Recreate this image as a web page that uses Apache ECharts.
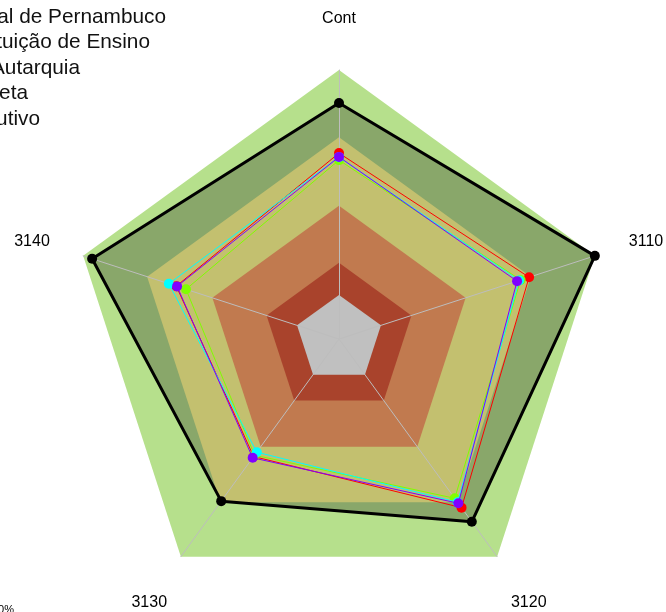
<!DOCTYPE html>
<html>
<head>
<meta charset="utf-8">
<script src="https://cdn.jsdelivr.net/npm/echarts@6/dist/echarts.min.js"></script>
<style>
  html, body { margin: 0; padding: 0; background: #fff; }
  #chart { width: 666px; height: 612px; }
</style>
</head>
<body>
<div id="chart"></div>
<script>
// axes in echarts order (counter-clockwise from the top)
var categories = ['Cont', '3140', '3130', '3120', '3110'];
var legendNames = [
  'Universidade Federal de Pernambuco',
  'Instituição de Ensino',
  'Autarquia',
  'Administração Direta',
  'Poder Executivo'
];
var ufpe = [87.7, 96.5, 74.5, 84.0, 100];
var instituicao = [69.1, 63.6, 54.0, 77.5, 74.3];
var autarquia = [66.5, 59.8, 53.4, 73.2, 71.0];
var direta = [67.6, 66.5, 52.0, 75.0, 70.4];
var executivo = [67.7, 63.3, 54.6, 75.5, 69.6];
// background rings (same value on every axis)
var bandLevels = [100, 75, 49.5, 28.3, 16.4];

var cx = 339, cy = 339, R = 269;
var ringColors = ['#b6e08c', '#c3c06f', '#c17a4f', '#a9432c', '#c0c0c0'];
var lineColors = ['#000000', '#ff0000', '#80ff00', '#00ffff', '#8000ff'];

function fill(v) {
  return categories.map(function () { return v; });
}

var bandData = [];
bandData.push({ value: fill(bandLevels[0]), areaStyle: { color: ringColors[0], opacity: 1 } });
// area under the first series (dark green)
bandData.push({ value: ufpe, areaStyle: { color: '#89a76a', opacity: 1 } });
for (var i = 1; i < bandLevels.length; i++) {
  bandData.push({ value: fill(bandLevels[i]), areaStyle: { color: ringColors[i], opacity: 1 } });
}

var allVals = [ufpe, instituicao, autarquia, direta, executivo];
var series = [{
  type: 'radar',
  z: 1,
  silent: true,
  symbol: 'none',
  lineStyle: { width: 0, opacity: 0 },
  data: bandData
}];
allVals.forEach(function (vals, k) {
  series.push({
    type: 'radar',
    name: legendNames[k],
    z: 3 + k,
    symbol: 'circle',
    symbolSize: 10,
    lineStyle: { color: lineColors[k], width: k === 0 ? 3 : 1 },
    itemStyle: { color: lineColors[k] },
    data: [{ value: vals }]
  });
});

var graphics = [];
categories.forEach(function (name, i) {
  var a = (90 + i * 72) * Math.PI / 180;
  graphics.push({
    type: 'text',
    x: cx + 1.2 * R * Math.cos(a),
    y: cy - 1.2 * R * Math.sin(a) + 2,
    style: { text: name, fill: '#000', font: '16px "Liberation Sans", Arial, sans-serif', textAlign: 'center', textVerticalAlign: 'middle' }
  });
});
var legendRight = [166, 150, 80, 28, 40];
legendNames.forEach(function (name, i) {
  graphics.push({
    type: 'text',
    x: legendRight[i],
    y: 17 + i * 25.5,
    style: { text: name, fill: '#111', font: '20.8px "Liberation Sans", Arial, sans-serif', textAlign: 'right', textVerticalAlign: 'middle' }
  });
});
graphics.push({
  type: 'text', x: 14, y: 604,
  style: { text: '0%', fill: '#000', font: '11px "Liberation Sans", Arial, sans-serif', textAlign: 'right', textVerticalAlign: 'top' }
});

var myChart = echarts.init(document.getElementById('chart'));
var option = {
  animation: false,
  radar: {
    z: 2,
    center: [cx, cy],
    radius: R,
    startAngle: 90,
    shape: 'polygon',
    indicator: categories.map(function (c) { return { name: c, min: 0, max: 100 }; }),
    axisName: { show: false },
    splitLine: { show: false },
    splitArea: { show: false },
    axisLine: { lineStyle: { color: '#bdbdbd', width: 1 } }
  },
  graphic: graphics,
  series: series
};
myChart.setOption(option);
</script>
</body>
</html>
